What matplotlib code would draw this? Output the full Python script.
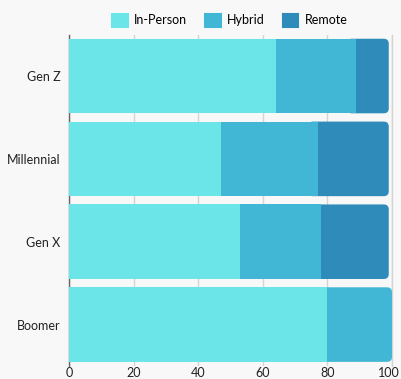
import matplotlib.pyplot as plt
import matplotlib.transforms as mtransforms
import numpy as np
from matplotlib.patches import FancyBboxPatch, Patch

plt.rcParams['font.family'] = ['Lato', 'DejaVu Sans']

generations = ["Gen Z", "Millennial", "Gen X", "Boomer"]
in_person = [64, 47, 53, 80]
hybrid = [25, 30, 25, 20]
remote = [10, 22, 21, 0]
series_names = ["In-Person", "Hybrid", "Remote"]
colors = ["#6be5e8", "#42b6d5", "#2e8bba"]

fig = plt.figure(figsize=(4.01, 3.79), dpi=100, facecolor="#f8f8f8")
ax = fig.add_axes([69 / 401, 1 - 366 / 379, 323 / 401, 331.4 / 379])
ax.set_facecolor("#f8f8f8")

y = np.arange(len(generations))
bar_h = 0.9
stacks = np.array([in_person, hybrid, remote], dtype=float)
lefts = np.vstack([np.zeros(len(generations)), np.cumsum(stacks, axis=0)[:-1]])
totals = stacks.sum(axis=0)

# aspect of one x unit vs one y unit in pixels, so the corners come out round
px_x = 323 / 100.0
px_y = 331.4 / 4.0
aspect = px_x / px_y
rad = 5 / px_x

for i in range(len(generations)):
    # last non-empty segment gets a rounded right end
    last = max(k for k in range(3) if stacks[k, i] > 0)
    start = lefts[last, i]
    box = FancyBboxPatch((start - 3, y[i] - bar_h / 2), totals[i] - start + 3, bar_h,
                         boxstyle=f"round,pad=0,rounding_size={rad}",
                         mutation_aspect=aspect, facecolor=colors[last],
                         edgecolor="none", zorder=2)
    ax.add_patch(box)
    for k in range(last):
        ax.barh(y[i], stacks[k, i], left=lefts[k, i], height=bar_h,
                color=colors[k], edgecolor="none", zorder=3)

ax.set_xlim(0, 100)
ax.set_ylim(3.5, -0.5)
ax.set_yticks(y)
ax.set_yticklabels(generations, fontsize=9, color="#222222")
ax.set_xticks(np.arange(0, 101, 20))
ax.set_xticklabels([str(v) for v in range(0, 101, 20)], fontsize=9, color="#222222")
ax.tick_params(axis="both", length=0)
ax.tick_params(axis="x", pad=0.5)
ax.tick_params(axis="y", pad=6)

# keep the "100" label inside the figure edge
last_lbl = ax.get_xticklabels()[-1]
last_lbl.set_transform(last_lbl.get_transform() +
                       mtransforms.ScaledTranslation(-3 / 100, 0, fig.dpi_scale_trans))

ax.grid(axis="x", color="#d4d4d4", linewidth=1, zorder=0)
ax.set_axisbelow(True)
for s in ["top", "bottom"]:
    ax.spines[s].set_visible(False)
ax.spines["left"].set_color("#666666")
ax.spines["left"].set_linewidth(1)
ax.spines["left"].set_zorder(1)
ax.spines["right"].set_color("#d4d4d4")
ax.spines["right"].set_linewidth(1)
ax.spines["right"].set_zorder(1)

handles = [Patch(facecolor=c, edgecolor="#ffffff", linewidth=0.6) for c in colors]
fig.legend(handles, series_names, loc="center", bbox_to_anchor=(0.57, 1 - 20 / 379),
           ncol=3, frameon=False, fontsize=9, handlelength=1.5, handleheight=1.5,
           handletextpad=0.4, columnspacing=1.3)

fig.savefig("out.png", dpi=100, facecolor=fig.get_facecolor())
